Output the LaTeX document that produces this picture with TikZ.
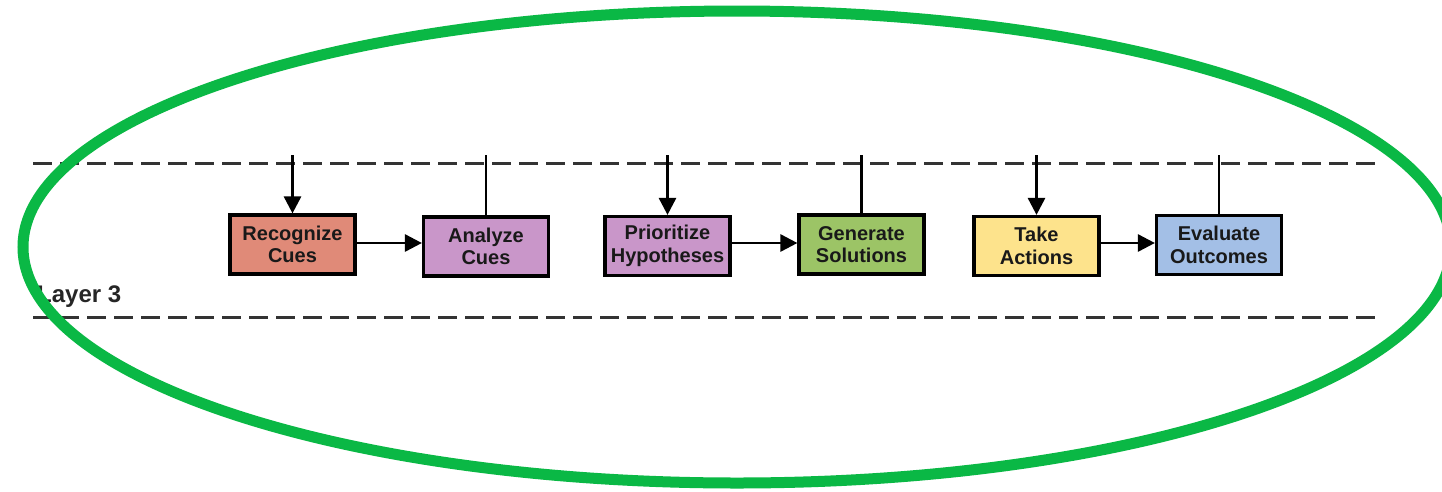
\documentclass[tikz,border=0pt]{standalone}
\usepackage{fontspec}
\setmainfont{Liberation Sans}
\usetikzlibrary{arrows.meta}
\definecolor{cRec}{HTML}{E08A78}
\definecolor{cPur}{HTML}{C996C9}
\definecolor{cGen}{HTML}{9CC466}
\definecolor{cTake}{HTML}{FDE38C}
\definecolor{cEval}{HTML}{A3BFE6}
\definecolor{cGreen}{HTML}{0AB845}
\definecolor{cDash}{HTML}{333333}
\tikzset{
  stepbox/.style={draw=black, line width=3.2pt, minimum width=125pt, minimum height=59pt,
    inner sep=0pt, align=center, font=\bfseries\fontsize{20}{22.5}\selectfont, text=black!90},
  arr/.style={line width=2.8pt, -{Triangle[length=17pt,width=17pt]}},
  plain/.style={line width=2.8pt},
  layerline/.style={line width=3pt, draw=cDash, dash pattern=on 19pt off 8pt},
}
\begin{document}
\begin{tikzpicture}[x=1pt,y=-1pt]
\useasboundingbox (0,0) rectangle (1442,491);
\fill[white] (0,0) rectangle (1442,491);
% dashed layer lines
\coordinate (dl1) at (33,163);
\coordinate (dr1) at (1380,163);
\coordinate (dl2) at (33,317);
\coordinate (dr2) at (1380,317);
\draw[layerline] (dl1) -- (dr1);
\draw[layerline] (dl2) -- (dr2);
\node[anchor=base west, font=\bfseries\fontsize{24}{26}\selectfont, text=black!85, inner sep=0pt] (layer) at (37,302) {Layer 3};
% boxes
\node[stepbox, fill=cRec] (rec) at (292.5,244.5) {Recognize\\Cues};
\node[stepbox, fill=cPur] (ana) at (486,246.5) {Analyze\\Cues};
\node[stepbox, fill=cPur] (pri) at (667.5,246) {Prioritize\\Hypotheses};
\node[stepbox, fill=cGen] (gen) at (861.5,244.5) {Generate\\Solutions};
\node[stepbox, fill=cTake] (take) at (1036.5,246) {Take\\Actions};
\node[stepbox, fill=cEval] (eval) at (1219,245) {Evaluate\\Outcomes};
% top coordinates
\coordinate (t1) at (292.5,155);
\coordinate (t2) at (486,155);
\coordinate (t3) at (667.5,155);
\coordinate (t4) at (861.5,155);
\coordinate (t5) at (1036.5,155);
\coordinate (t6) at (1219,155);
\draw[arr] (t1) -- (rec.north);
\draw[plain] (ana.north) -- (t2);
\draw[arr] (t3) -- (pri.north);
\draw[plain] (gen.north) -- (t4);
\draw[arr] (t5) -- (take.north);
\draw[plain] (eval.north) -- (t6);
% horizontal arrows
\draw[arr] (rec.east |- 0,243) -- (ana.west |- 0,243);
\draw[arr] (pri.east |- 0,243) -- (gen.west |- 0,243);
\draw[arr] (take.east |- 0,243) -- (eval.west |- 0,243);
% green ellipse
\draw[cGreen, line width=11pt] (737,247) ellipse [x radius=714, y radius=236];
\end{tikzpicture}
\end{document}
